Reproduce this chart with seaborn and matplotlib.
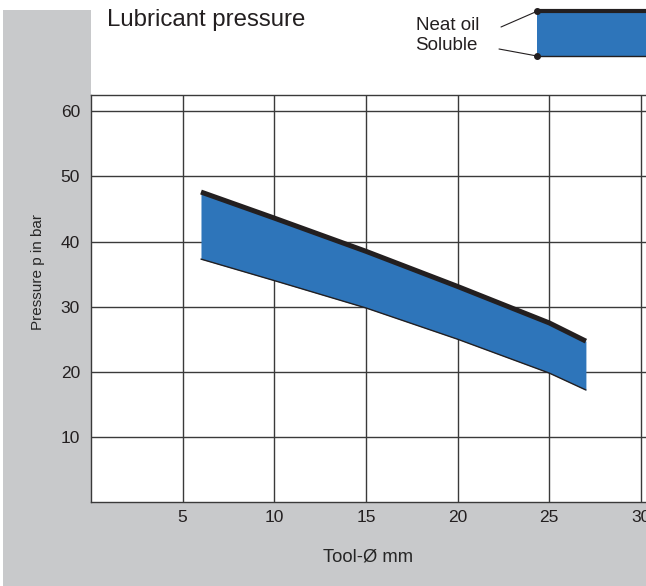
import matplotlib
matplotlib.use("Agg")
import matplotlib.pyplot as plt
from matplotlib.patches import Rectangle
from matplotlib.lines import Line2D
import seaborn as sns
import pandas as pd

# values
tool_diameter = [6, 10, 15, 20, 25, 27]
neat_oil = [47.6, 43.6, 38.5, 33.1, 27.5, 24.7]
soluble = [37.3, 34.0, 29.8, 25.0, 19.8, 17.2]

x_ticks = [5, 10, 15, 20, 25, 30]
y_ticks = [10, 20, 30, 40, 50, 60]

title = "Lubricant pressure"
x_label = "Tool-Ø mm"
y_label = "Pressure p in bar"
legend_labels = ["Neat oil", "Soluble"]

BLUE = "#2e75ba"
INK = "#231f20"
GREY = "#c8c9cb"
GRID = "#3a3a3a"

W, H = 646, 586

sns.set_style("white")
plt.rcParams["font.family"] = ["Liberation Sans", "DejaVu Sans"]
plt.rcParams["text.color"] = "#231f20"


def px(x, y):
    # pixel position of the reference -> figure fraction
    return x / W, 1 - y / H


fig = plt.figure(figsize=(W / 100, H / 100), dpi=100)
fig.patch.set_facecolor("white")

# grey L-shaped background, kept under the axes and its labels
fig.patches.append(Rectangle(px(3, 586), 88 / W, 576 / H, transform=fig.transFigure,
                             facecolor=GREY, edgecolor="none", zorder=-2))
fig.patches.append(Rectangle(px(3, 586), 643 / W, 84 / H, transform=fig.transFigure,
                             facecolor=GREY, edgecolor="none", zorder=-2))

left, bottom = px(91, 502)
ax = fig.add_axes([left, bottom, (W - 91) / W, (502 - 95) / H])
ax.set_facecolor("white")

df = pd.DataFrame({"tool": tool_diameter, "neat": neat_oil, "soluble": soluble})

ax.fill_between(df["tool"], df["soluble"], df["neat"], color=BLUE, linewidth=0, zorder=3)
sns.lineplot(data=df, x="tool", y="soluble", ax=ax, color=INK, linewidth=1.0, zorder=4)
sns.lineplot(data=df, x="tool", y="neat", ax=ax, color=INK, linewidth=3.6, zorder=5,
             solid_capstyle="butt")

ax.set_xlim(0, (W - 91) / 18.33)
ax.set_ylim(0, 62.5)
ax.set_xticks(x_ticks)
ax.set_yticks(y_ticks)
ax.grid(True, color=GRID, linewidth=1.0)
ax.set_axisbelow(True)
for s in ax.spines.values():
    s.set_color(GRID)
    s.set_linewidth(1.0)
ax.spines["right"].set_visible(False)
ax.tick_params(axis="both", length=0, labelsize=12.5, colors=INK)
ax.tick_params(axis="y", pad=8)
ax.tick_params(axis="x", pad=6)

ax.set_xlabel(x_label, fontsize=13.2, labelpad=0)
ax.xaxis.set_label_coords(0.5, (502 - 557) / 407)
ax.xaxis.label.set_va("center")
ax.set_ylabel(y_label, fontsize=11)
ax.yaxis.set_label_coords((38 - 91) / 555, (502 - 272) / 407)
ax.yaxis.label.set_va("center")

fig.text(*px(107, 20), title, fontsize=17.3, ha="left", va="center")

# legend swatch
fig.patches.append(Rectangle(px(537, 56), (W - 537) / W, 45 / H, transform=fig.transFigure,
                             facecolor=BLUE, edgecolor="none", zorder=2))
for yy, lw in [(11.3, 3.0), (56, 1.0)]:
    x0, y0 = px(537, yy)
    x1, _ = px(W, yy)
    fig.lines.append(Line2D([x0, x1], [y0, y0], transform=fig.transFigure,
                            color=INK, linewidth=lw, solid_capstyle="butt", zorder=3))
for (tx, ty), (dx, dy) in [((501, 27), (537, 11.3)), ((499, 49), (537, 56))]:
    a, b = px(tx, ty)
    c, d = px(dx, dy)
    fig.lines.append(Line2D([a, c], [b, d], transform=fig.transFigure,
                            color=INK, linewidth=0.8, zorder=3))
    fig.lines.append(Line2D([c], [d], transform=fig.transFigure, marker="o",
                            markersize=4, color=INK, linestyle="none", zorder=4))

fig.text(*px(479, 25), legend_labels[0], fontsize=13.5, ha="right", va="center")
fig.text(*px(415, 45), legend_labels[1], fontsize=13.5, ha="left", va="center")

fig.savefig("out.png", dpi=100)
